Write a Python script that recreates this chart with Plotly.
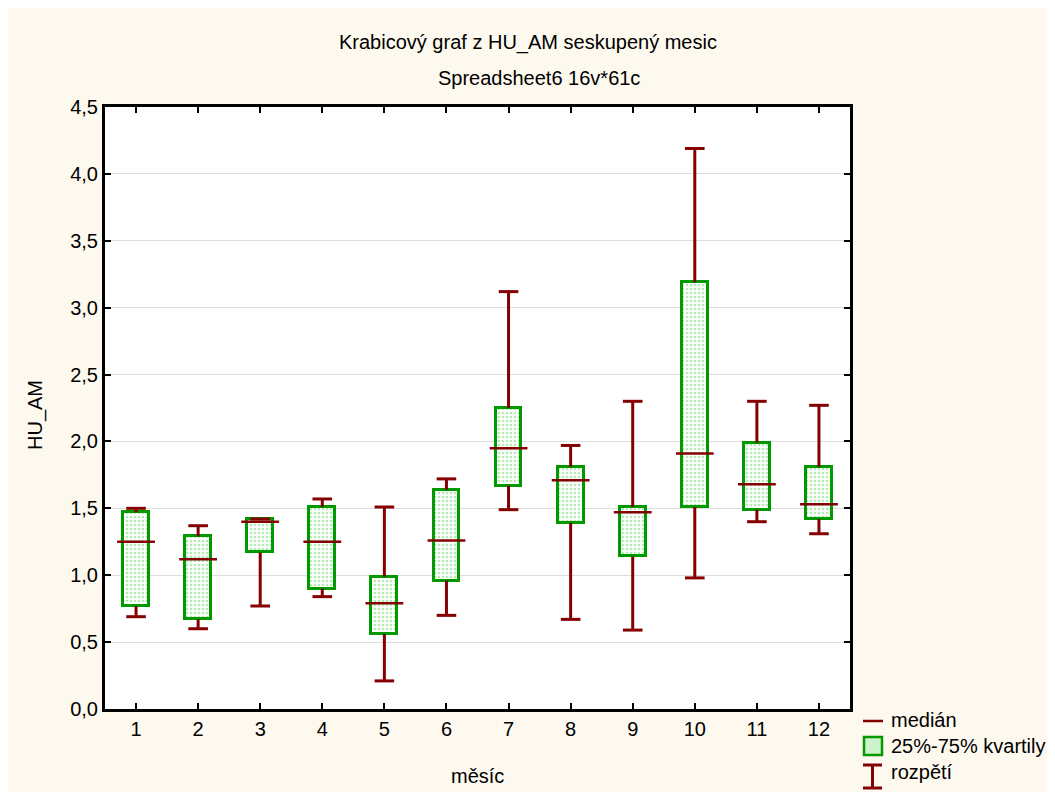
import plotly.graph_objects as go

# ---- data ----
months = [1, 2, 3, 4, 5, 6, 7, 8, 9, 10, 11, 12]
minimum = [0.69, 0.60, 0.77, 0.84, 0.21, 0.70, 1.49, 0.67, 0.59, 0.98, 1.40, 1.31]
q1 = [0.77, 0.67, 1.17, 0.90, 0.56, 0.96, 1.67, 1.39, 1.14, 1.51, 1.49, 1.42]
median = [1.25, 1.12, 1.40, 1.25, 0.79, 1.26, 1.95, 1.71, 1.47, 1.91, 1.68, 1.53]
q3 = [1.47, 1.29, 1.42, 1.51, 0.99, 1.64, 2.25, 1.81, 1.51, 3.19, 1.99, 1.81]
maximum = [1.50, 1.37, 1.42, 1.57, 1.51, 1.72, 3.12, 1.97, 2.30, 4.19, 2.30, 2.27]
y_ticks = [0.0, 0.5, 1.0, 1.5, 2.0, 2.5, 3.0, 3.5, 4.0, 4.5]

title = "Krabicový graf z HU_AM seskupený mesic"
subtitle = "Spreadsheet6 16v*61c"
x_title = "měsíc"
y_title = "HU_AM"
legend_labels = ["medián", "25%-75% kvartily", "rozpětí"]

RED = "#850000"
GREEN = "#009a00"
CREAM = "#fef9ee"
FONT = "Liberation Sans, Arial, sans-serif"
FS = 20

# page body has an 8px margin: figure starts at window (8, 8)
OFF = 8
W, H = 1047, 784
L, T = 105 - OFF, 107 - OFF
R = 1055 - 850
B = H - (709 - OFF)
PW, PH = W - L - R, H - T - B


def px(xw):
    return (xw - OFF - L) / PW


def py(yw):
    return (H - B - (yw - OFF)) / PH


fig = go.Figure()

# boxes (25%-75%)
fig.add_trace(go.Bar(
    x=months,
    y=[b - a for a, b in zip(q1, q3)],
    base=q1,
    width=0.415,
    marker=dict(
        color="white",
        pattern=dict(shape=".", fgcolor="#6ad66a", bgcolor="white", size=4, solidity=0.35),
        line=dict(color=GREEN, width=3),
    ),
    showlegend=False,
    hoverinfo="skip",
))

# whiskers (outside the boxes)
wx, wy = [], []
for m, lo, a, b, hi in zip(months, minimum, q1, q3, maximum):
    wx += [m, m, None, m, m, None]
    wy += [b, hi, None, a, lo, None]
fig.add_trace(go.Scatter(x=wx, y=wy, mode="lines", line=dict(color=RED, width=3),
                         showlegend=False, hoverinfo="skip"))

# whisker caps
fig.add_trace(go.Scatter(
    x=months + months, y=minimum + maximum, mode="markers",
    marker=dict(symbol="line-ew", size=14, line=dict(color=RED, width=3)),
    showlegend=False, hoverinfo="skip"))

# medians
fig.add_trace(go.Scatter(
    x=months, y=median, mode="markers",
    marker=dict(symbol="line-ew", size=27, line=dict(color=RED, width=2.5)),
    showlegend=False, hoverinfo="skip"))

shapes = [
    # legend: median line
    dict(type="line", xref="paper", yref="paper", x0=px(863), x1=px(883), y0=py(721), y1=py(721),
         line=dict(color=RED, width=2.5)),
    # legend: box
    dict(type="rect", xref="paper", yref="paper", x0=px(864), x1=px(882), y0=py(737), y1=py(755),
         fillcolor="#cdf3cd", line=dict(color=GREEN, width=2.5)),
    # legend: range I-beam
    dict(type="line", xref="paper", yref="paper", x0=px(872.5), x1=px(872.5), y0=py(765), y1=py(788),
         line=dict(color=RED, width=3)),
    dict(type="line", xref="paper", yref="paper", x0=px(863), x1=px(882), y0=py(765), y1=py(765),
         line=dict(color=RED, width=3)),
    dict(type="line", xref="paper", yref="paper", x0=px(863), x1=px(882), y0=py(788), y1=py(788),
         line=dict(color=RED, width=3)),
]

annotations = [
    dict(text=title, x=px(527.5), y=py(43), xref="paper", yref="paper",
         showarrow=False, xanchor="center", yanchor="middle", font=dict(size=FS)),
    dict(text=subtitle, x=px(539), y=py(78), xref="paper", yref="paper",
         showarrow=False, xanchor="center", yanchor="middle", font=dict(size=FS)),
    dict(text=x_title, x=px(477), y=py(776), xref="paper", yref="paper",
         showarrow=False, xanchor="center", yanchor="middle", font=dict(size=FS)),
    dict(text=y_title, x=px(35), y=py(415), xref="paper", yref="paper", textangle=-90,
         showarrow=False, xanchor="center", yanchor="middle", font=dict(size=FS)),
]
for lbl, yy in zip(legend_labels, [720, 746, 772]):
    annotations.append(dict(text=lbl, x=px(889), y=py(yy), xref="paper", yref="paper",
                            showarrow=False, xanchor="left", yanchor="middle", font=dict(size=FS)))

fig.update_layout(
    width=W, height=H,
    margin=dict(l=L, r=R, t=T, b=B, pad=0),
    paper_bgcolor=CREAM,
    plot_bgcolor="white",
    font=dict(family=FONT, size=FS, color="black"),
    separators=",.",
    showlegend=False,
    bargap=0,
    shapes=shapes,
    annotations=annotations,
)
fig.update_xaxes(
    range=[0.5, 12.5], tickmode="array", tickvals=months, ticktext=[str(m) for m in months],
    ticks="inside", ticklen=6, tickwidth=2, tickcolor="black",
    showline=True, linecolor="black", linewidth=3, mirror="allticks",
    showgrid=False, zeroline=False,
)
fig.update_yaxes(
    range=[0, 4.5], tickmode="array", tickvals=y_ticks, tickformat=".1f",
    ticks="inside", ticklen=6, tickwidth=2, tickcolor="black",
    showline=True, linecolor="black", linewidth=3, mirror="allticks",
    showgrid=True, gridcolor="#dddddd", gridwidth=1, zeroline=False,
)

fig.write_html("out.html")
